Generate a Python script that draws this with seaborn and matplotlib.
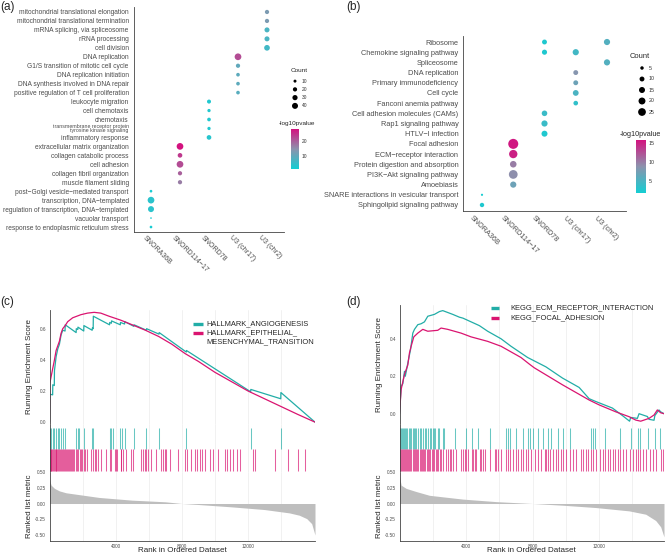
import numpy as np
import pandas as pd
import matplotlib
matplotlib.use("Agg")
import matplotlib.pyplot as plt
import seaborn as sns
from matplotlib.colors import LinearSegmentedColormap, Normalize
from matplotlib.cm import ScalarMappable
from matplotlib.lines import Line2D
from matplotlib.transforms import ScaledTranslation

sns.set_style("white")
plt.rcParams['font.family'] = ['Liberation Sans', 'DejaVu Sans']

W, H = 667, 554
fig = plt.figure(figsize=(W / 100, H / 100), dpi=100)


def px(l, t, r, b):
    # pixel box -> figure fraction rect
    return [l / W, 1 - b / H, (r - l) / W, (b - t) / H]


cmap = LinearSegmentedColormap.from_list('snorna', ['#14CED3', '#8C93AD', '#D3127F'])
GREY_TXT = '#4D4D4D'

# ---------------- data: (a) GO terms ----------------
snorna_order = ['SNORA36B', 'SNORD114\u221217', 'SNORD78', 'U3 (chr17)', 'U3 (chr2)']

go_terms = [
    'mitochondrial translational elongation',
    'mitochondrial translational termination',
    'mRNA splicing, via spliceosome',
    'rRNA processing',
    'cell division',
    'DNA replication',
    'G1/S transition of mitotic cell cycle',
    'DNA replication initiation',
    'DNA synthesis involved in DNA repair',
    'positive regulation of T cell proliferation',
    'leukocyte migration',
    'cell chemotaxis',
    'chemotaxis',
    'transmembrane receptor protein\ntyrosine kinase signaling',
    'inflammatory response',
    'extracellular matrix organization',
    'collagen catabolic process',
    'cell adhesion',
    'collagen fibril organization',
    'muscle filament sliding',
    'post\u2212Golgi vesicle\u2212mediated transport',
    'transcription, DNA\u2212templated',
    'regulation of transcription, DNA\u2212templated',
    'vacuolar transport',
    'response to endoplasmic reticulum stress',
]
go_group = (['U3 (chr2)'] * 5 + ['U3 (chr17)'] * 5 + ['SNORD78'] * 5
            + ['SNORD114\u221217'] * 5 + ['SNORA36B'] * 5)
go_count = [20, 20, 28, 28, 36, 50, 20, 15, 15, 15, 18, 12, 15, 12, 24,
            50, 24, 50, 20, 20, 8, 50, 40, 3, 8]
go_logp = [13, 13, 7.5, 7.5, 6.5, 22, 10, 9.5, 9.5, 9, 3, 3, 3, 3, 3.5,
           28, 24, 22, 20, 17, 2, 4, 4, 2, 2]

# ---------------- data: (b) KEGG pathways ----------------
kegg_terms = [
    'Ribosome', 'Ribosome',
    'Chemokine signaling pathway', 'Chemokine signaling pathway',
    'Spliceosome',
    'DNA replication',
    'Primary immunodeficiency',
    'Cell cycle',
    'Fanconi anemia pathway',
    'Cell adhesion molecules (CAMs)',
    'Rap1 signaling pathway',
    'HTLV\u2212I infection',
    'Focal adhesion',
    'ECM\u2212receptor interaction',
    'Protein digestion and absorption',
    'PI3K\u2212Akt signaling pathway',
    'Amoebiasis',
    'SNARE interactions in vesicular transport',
    'Sphingolipid signaling pathway',
]
kegg_group = ['SNORD78', 'U3 (chr2)', 'SNORD78', 'U3 (chr17)', 'U3 (chr2)',
              'U3 (chr17)', 'U3 (chr17)', 'U3 (chr17)', 'U3 (chr17)',
              'SNORD78', 'SNORD78', 'SNORD78',
              'SNORD114\u221217', 'SNORD114\u221217', 'SNORD114\u221217',
              'SNORD114\u221217', 'SNORD114\u221217',
              'SNORA36B', 'SNORA36B']
kegg_count = [10, 16, 11, 16, 16, 10, 10, 14, 9, 13, 16, 15, 42, 29, 18, 32, 16, 2, 8]
kegg_logp = [2.5, 5.5, 2.5, 4.5, 5.5, 8.5, 7, 5, 3.5, 4, 4, 2.5,
             15.5, 15, 10, 9, 7, 2, 2.5]

# ---------------- data: (c) hallmark GSEA ----------------
c_angio_rank = [0, 10, 190, 200, 290, 300, 400, 500, 600, 700, 800, 940, 950, 1610, 1620,
                1710, 1720, 2070, 2080, 2580, 2590, 2640, 2650, 3630, 3640, 3740, 3750,
                4280, 4290, 4540, 4550, 5100, 5110, 5860, 5870, 6620, 6630, 8270, 8280,
                12160, 12170, 13980, 13990, 16050]
c_angio_es = [0.0, 0.18, 0.175, 0.24, 0.235, 0.33, 0.42, 0.47, 0.50, 0.56, 0.59, 0.585, 0.625,
              0.575, 0.60, 0.595, 0.61, 0.585, 0.62, 0.59, 0.605, 0.60, 0.68, 0.625, 0.64,
              0.635, 0.65, 0.625, 0.64, 0.63, 0.645, 0.615, 0.625, 0.59, 0.60, 0.565, 0.575,
              0.45, 0.46, 0.195, 0.21, 0.15, 0.19, 0.0]
c_emt_rank = [0, 20, 150, 300, 400, 500, 600, 700, 800, 950, 1100, 1400, 1900, 2300, 2700,
              3100, 3600, 4300, 5000, 5800, 6600, 7400, 8200, 9000, 10000, 11000, 12000,
              13000, 14000, 15000, 16050]
c_emt_es = [0.0, 0.25, 0.32, 0.40, 0.46, 0.49, 0.52, 0.57, 0.60, 0.62, 0.645, 0.67, 0.69, 0.70,
            0.705, 0.70, 0.68, 0.655, 0.625, 0.59, 0.55, 0.50, 0.44, 0.39, 0.32, 0.26, 0.20,
            0.15, 0.10, 0.05, 0.0]
c_angio_hits = [0, 100, 200, 300, 400, 500, 600, 700, 800, 950, 1620, 1715, 1775, 2080, 2590,
                2650, 3640, 3740, 3840, 4285, 4380, 4545, 5110, 5860, 6625, 8280, 12165, 13990]
c_emt_hits = [0, 40, 80, 120, 170, 220, 270, 320, 370, 420, 470, 520, 570, 620, 680, 740, 800,
              860, 920, 980, 1040, 1100, 1160, 1230, 1300, 1370, 1440, 1510, 1580, 1660, 1740,
              1820, 1900, 1990, 2080, 2170, 2260, 2530, 2625, 2730, 2830, 2930, 3135, 3395,
              3635, 3740, 3940, 4040, 4105, 4305, 4345, 4440, 4650, 4950, 5050, 5560, 5655,
              5755, 5860, 5960, 6165, 6425, 6770, 6865, 6970, 7070, 7270, 7775, 8180, 8285,
              8545, 8785, 8890, 9090, 9195, 9395, 9695, 9895, 10200, 10605, 10710, 10910,
              11110, 11315, 11515, 12320, 12425, 13635, 14440, 15045, 15455]
c_metric_rank = [0, 100, 300, 600, 1000, 2000, 3000, 5000, 7000, 8000, 9000, 11000, 13000,
                 14500, 15100, 15550, 15850, 16050]
c_metric = [0.37, 0.29, 0.24, 0.20, 0.17, 0.133, 0.096, 0.053, 0.027, 0.0, -0.016, -0.053,
            -0.096, -0.149, -0.186, -0.24, -0.32, -0.5]

# ---------------- data: (d) KEGG GSEA ----------------
d_ecm_rank = [0, 100, 200, 300, 350, 500, 660, 800, 900, 1100, 1300, 1500, 1700, 2100, 2400,
              2600, 2900, 3200, 3600, 3810, 4800, 5300, 6100, 6700, 7700, 8800, 9800, 10800,
              11400, 11800, 12800, 13400, 13830, 13900, 14300, 14400, 14900, 15000, 15300,
              15350, 15600, 15700, 15900]
d_ecm_es = [0.0, 0.146, 0.16, 0.226, 0.20, 0.27, 0.34, 0.43, 0.45, 0.475, 0.48, 0.49, 0.52,
            0.53, 0.545, 0.55, 0.54, 0.53, 0.515, 0.51, 0.47, 0.44, 0.40, 0.36, 0.30, 0.25,
            0.19, 0.14, 0.08, 0.065, 0.03, -0.01, -0.04, -0.02, -0.025, 0.0, -0.015, -0.03,
            -0.035, -0.01, 0.02, 0.01, 0.0]
d_fa_rank = [0, 100, 300, 500, 600, 700, 860, 1100, 1400, 1700, 2300, 2500, 2900, 3300, 3700,
             4300, 5300, 6100, 7300, 7800, 8100, 9800, 11400, 12000, 13000, 13800, 14200,
             14500, 15000, 15300, 15500, 15700, 15900]
d_fa_es = [0.0, 0.13, 0.21, 0.26, 0.325, 0.36, 0.41, 0.43, 0.45, 0.44, 0.445, 0.457, 0.45,
           0.44, 0.43, 0.41, 0.386, 0.36, 0.30, 0.265, 0.245, 0.154, 0.073, 0.047, 0.01,
           -0.016, -0.034, -0.04, -0.025, -0.007, 0.02, 0.005, 0.0]
d_ecm_hits = [0, 50, 100, 160, 220, 280, 340, 400, 480, 560, 640, 720, 800, 880, 960, 1005,
              1100, 1205, 1305, 1400, 1505, 1605, 1700, 1805, 1905, 2005, 2065, 2145, 2305,
              2365, 2605, 2705, 3310, 3970, 4350, 4710, 5415, 6420, 6515, 6615, 7020, 7415,
              7720, 7820, 8020, 8320, 8620, 8920, 9125, 9520, 9825, 10225, 11530, 11625,
              11730, 12330, 13235, 13895, 14335, 14435, 14935, 15340, 15640]
d_fa_hits = [0, 60, 120, 180, 240, 300, 360, 420, 480, 540, 600, 660, 720, 790, 860, 930,
             1000, 1070, 1140, 1210, 1280, 1350, 1420, 1490, 1560, 1630, 1700, 1780, 1860,
             1940, 2020, 2100, 2180, 2260, 2340, 2420, 2510, 2605, 2810, 2905, 3010, 3110,
             3205, 3410, 3710, 3810, 3910, 4010, 4110, 4350, 4410, 4510, 4615, 4810, 4915,
             5010, 5115, 5415, 5715, 5815, 5915, 6115, 6420, 6515, 6615, 6815, 7020, 7115,
             7320, 7415, 7620, 7715, 7920, 8120, 8320, 8525, 8720, 8825, 8920, 9025, 9220,
             9425, 9520, 9725, 9825, 10025, 10225, 10425, 10630, 10930, 11025, 11230, 11325,
             11530, 11625, 11830, 12030, 12230, 12330, 12530, 12630, 12830, 12930, 13130,
             13235, 13430, 13635, 13835, 14035, 14240, 14335, 14435, 14635, 14840, 15040,
             15235, 15440, 15740, 15840]
d_metric_rank = [0, 100, 400, 1000, 1800, 3800, 5800, 8000, 9800, 11800, 13800, 14800, 15400,
                 15700, 15900]
d_metric = [0.43, 0.29, 0.24, 0.19, 0.13, 0.07, 0.03, 0.0, -0.027, -0.064, -0.117, -0.17,
            -0.27, -0.37, -0.53]

TEAL = '#22ADA7'
PINK = '#DA1470'


def style_spines(ax, sides=('left', 'bottom')):
    for s in ['top', 'right', 'left', 'bottom']:
        ax.spines[s].set_visible(s in sides)
        ax.spines[s].set_color('#444444')
        ax.spines[s].set_linewidth(0.6)


def draw_dotplot(box, terms, groups, counts, logp, norm, size_norm, sizes, fs_y, fs_x, shift):
    ax = fig.add_axes(px(*box))
    order = list(dict.fromkeys(terms))
    df = pd.DataFrame({'term': terms, 'group': groups, 'count': counts, 'logp': logp})
    df['xi'] = df['group'].map({g: i for i, g in enumerate(snorna_order)})
    df['yi'] = df['term'].map({t: i for i, t in enumerate(order)})
    sns.scatterplot(data=df, x='xi', y='yi', hue='logp', size='count', palette=cmap,
                    hue_norm=norm, sizes=sizes, size_norm=size_norm, linewidth=0,
                    legend=False, ax=ax)
    ax.set_xlim(-0.6, len(snorna_order) - 0.4)
    ax.set_ylim(len(order) - 0.4, -0.6)
    ax.set_xticks(range(len(snorna_order)))
    ax.set_xticklabels([])
    # rotated snoRNA names, anchored just below each tick
    off = ScaledTranslation(shift[0] / 100, -shift[1] / 100, fig.dpi_scale_trans)
    for i, g in enumerate(snorna_order):
        ax.text(i, 0, g, transform=ax.get_xaxis_transform() + off, rotation=-45,
                rotation_mode='anchor', ha='left', va='top', fontsize=fs_x, color=GREY_TXT)
    ax.set_yticks(range(len(order)))
    ax.set_yticklabels(order, fontsize=fs_y, color=GREY_TXT)
    for lbl in ax.get_yticklabels():
        if '\n' in lbl.get_text():
            lbl.set_fontsize(fs_y * 0.78)
            lbl.set_linespacing(0.85)
    ax.set_xlabel('')
    ax.set_ylabel('')
    style_spines(ax)
    ax.tick_params(length=2, width=0.5, color='#444444', pad=1.5)
    return ax


def draw_colorbar(box, norm, ticks, title_xy, title_fs, tick_fs):
    cax = fig.add_axes(px(*box))
    cb = fig.colorbar(ScalarMappable(norm=norm, cmap=cmap), cax=cax)
    cb.outline.set_visible(False)
    cb.set_ticks(ticks)
    cax.tick_params(labelsize=tick_fs, length=0, pad=2, labelcolor='#333333')
    fig.text(title_xy[0] / W, 1 - title_xy[1] / H, '-log10pvalue', fontsize=title_fs,
             ha='left', va='center')


def draw_size_legend(box, breaks, size_norm, sizes, title_xy, title_fs, lab_fs):
    lax = fig.add_axes(px(*box))
    leg = pd.DataFrame({'x': [0] * len(breaks), 'y': list(range(len(breaks))), 'count': breaks})
    sns.scatterplot(data=leg, x='x', y='y', size='count', sizes=sizes, size_norm=size_norm,
                    color='black', linewidth=0, legend=False, ax=lax)
    lax.set_xlim(-0.5, 0.5)
    lax.set_ylim(len(breaks) - 0.5, -0.5)
    lax.axis('off')
    for i, b in enumerate(breaks):
        lax.text(0.7, i, str(b), fontsize=lab_fs, ha='left', va='center', color='#333333')
    fig.text(title_xy[0] / W, 1 - title_xy[1] / H, 'Count', fontsize=title_fs,
             ha='left', va='center')


def draw_gsea(x0, x1, es_top, es_ylim, es_ticks, xmax, sets, m_rank, m_val, ylab_x):
    ax1 = fig.add_axes(px(x0, es_top, x1, 424))
    ax2 = fig.add_axes(px(x0, 424, x1, 472))
    ax3 = fig.add_axes(px(x0, 472, x1, 541))
    for rk, es, hits, color, lo, hi in sets:
        sns.lineplot(x=rk, y=es, color=color, lw=0.9, estimator=None, sort=False, ax=ax1)
        ax2.vlines(hits, lo, hi, color=color, lw=0.75, alpha=0.68)
    ax3.fill_between(m_rank, m_val, 0, color='#BEBEBE', lw=0)
    for ax in (ax1, ax2, ax3):
        ax.set_xlim(0, xmax)
        ax.set_xticks([4000, 8000, 12000])
        ax.set_xticks([2000, 6000, 10000, 14000], minor=True)
        ax.grid(True, axis='x', which='both', color='#EBEBEB', lw=0.5)
        ax.set_axisbelow(True)
        ax.tick_params(axis='both', which='both', labelsize=3.4, labelcolor=GREY_TXT,
                       length=1.5, width=0.4, color='#444444', pad=1)
        ax.tick_params(axis='x', which='minor', length=0)
    style_spines(ax1, ('left',))
    style_spines(ax2, ('left',))
    style_spines(ax3, ('left', 'bottom'))
    ax1.set_ylim(*es_ylim)
    ax1.set_yticks(es_ticks)
    ax1.set_yticklabels(['%.1f' % t for t in es_ticks])
    ax1.tick_params(axis='x', which='major', length=0, labelbottom=False)
    ax2.set_ylim(0, 1)
    ax2.set_yticks([])
    ax2.tick_params(axis='x', which='major', length=0, labelbottom=False)
    ax3.set_ylim(-0.595, 0.5)
    ax3.set_yticks([-0.5, -0.25, 0, 0.25, 0.5])
    ax3.set_yticklabels(['-0.50', '-0.25', '0.00', '0.25', '0.50'])
    ax3.tick_params(axis='x', pad=0.5)
    ax1.set_ylabel('Running Enrichment Score', fontsize=5.8)
    ax3.set_ylabel('Ranked list metric', fontsize=5.8)
    ax3.set_xlabel('Rank in Ordered Dataset', fontsize=5.8)
    ax1.yaxis.set_label_coords((ylab_x - x0) / (x1 - x0), 0.5)
    ax3.yaxis.set_label_coords((ylab_x - x0) / (x1 - x0), 0.5)
    ax3.xaxis.set_label_coords(0.5, (541 - 547.5) / 69)
    return ax1


def legend_key(x_a, x_b, y, color, text, tx, fs):
    fig.add_artist(Line2D([x_a / W, x_b / W], [1 - y / H, 1 - y / H], color=color, lw=2.4,
                          solid_capstyle='butt'))
    fig.text(tx / W, 1 - y / H, text, fontsize=fs, ha='left', va='center', linespacing=1.0)


# ---------------- panel (a) ----------------
norm_a = Normalize(1.5, 28)
draw_dotplot((133.6, 6.6, 284.4, 232.4), go_terms, go_group, go_count, go_logp,
             norm_a, (0, 50), (0, 23.3), 4.8, 5.0, (-5, 2))
draw_size_legend((290, 77, 300, 110), [10, 20, 30, 40], (0, 50), (0, 23.3), (291, 71), 4.6, 3.5)
draw_colorbar((291, 129, 299, 169), norm_a, [10, 20], (279, 123), 4.6, 3.5)

# ---------------- panel (b) ----------------
norm_b = Normalize(1.8, 15.8)
draw_dotplot((463.25, 35.9, 625.75, 211.1), kegg_terms, kegg_group, kegg_count, kegg_logp,
             norm_b, (0, 50), (0, 62), 5.3, 5.2, (-9, 3.5))
draw_size_legend((637, 62.5, 647, 117.5), [5, 10, 15, 20, 25], (0, 50), (0, 62), (630, 57), 5.4, 3.8)
draw_colorbar((636, 140, 646, 193), norm_b, [5, 10, 15], (620, 135), 5.2, 3.8)

# ---------------- panel (c) ----------------
draw_gsea(49.5, 315, 310, (-0.012, 0.72), [0.0, 0.2, 0.4, 0.6], 16050,
          [(c_angio_rank, c_angio_es, c_angio_hits, TEAL, 0.48, 0.92),
           (c_emt_rank, c_emt_es, c_emt_hits, PINK, 0.02, 0.48)],
          c_metric_rank, c_metric, 33)
legend_key(193, 203, 324, TEAL, 'HALLMARK_ANGIOGENESIS', 206, 5.4)
legend_key(193, 203, 333, PINK, 'HALLMARK_EPITHELIAL_', 206, 5.4)
fig.text(206 / W, 1 - 342 / H, 'MESENCHYMAL_TRANSITION', fontsize=5.4, ha='left', va='center')

# ---------------- panel (d) ----------------
draw_gsea(399.5, 664, 305, (-0.055, 0.58), [0.0, 0.2, 0.4], 15900,
          [(d_ecm_rank, d_ecm_es, d_ecm_hits, TEAL, 0.48, 0.92),
           (d_fa_rank, d_fa_es, d_fa_hits, PINK, 0.02, 0.48)],
          d_metric_rank, d_metric, 383)
legend_key(491, 499, 308, TEAL, 'KEGG_ECM_RECEPTOR_INTERACTION', 510, 5.4)
legend_key(491, 499, 318, PINK, 'KEGG_FOCAL_ADHESION', 510, 5.4)

# panel letters
for lab, x, y in [('(a)', 0, 1), ('(b)', 346, 1), ('(c)', 0, 296), ('(d)', 346, 296)]:
    fig.text(x / W, 1 - y / H, lab, fontsize=8.5, ha='left', va='top')

fig.savefig('out.png', dpi=100)
